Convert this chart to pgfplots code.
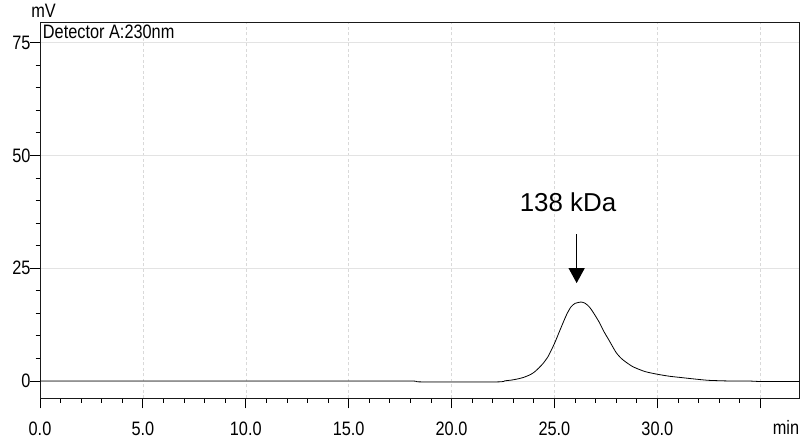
\documentclass[border=0pt]{standalone}
\usepackage{fontspec}
\setmainfont{Liberation Sans}
\newfontfamily\narrowfont{Liberation Sans}[FakeStretch=0.84]
\usepackage{pgfplots}
\pgfplotsset{compat=1.18}
\usetikzlibrary{arrows.meta}
\begin{document}
\begin{tikzpicture}
\begin{axis}[
  scale only axis,
  width=759.3bp, height=375.6bp,
  xmin=0, xmax=36.9, ymin=-3.83, ymax=79.4,
  axis line style={black!90, line width=0.9bp},
  tick align=outside,
  major tick length=10bp, minor tick length=4.3bp,
  tick style={black, line width=0.8bp},
  xtick={0,5,10,15,20,25,30,35},
  xticklabels={0.0,5.0,10.0,15.0,20.0,25.0,30.0,{}},
  minor x tick num=4,
  ytick={0,25,50,75},
  minor y tick num=4,
  xtick pos=bottom, ytick pos=left,
  /pgf/number format/assume math mode=true,
  ticklabel style={font=\narrowfont\fontsize{19.5}{20}\selectfont},
  xticklabel style={yshift=-10bp},
  yticklabel style={xshift=4bp},
  xmajorgrids, ymajorgrids,
  major x grid style={dash pattern=on 3bp off 2.5bp, gray!30, line width=0.5bp},
  major y grid style={solid, gray!22, line width=1bp},
  clip=true,
]
\addplot[black, line width=0.8bp, smooth, tension=0.4] coordinates {
(0,0) (5,0) (10,0) (15,0) (18.0,0) (18.3,-0.1) (18.6,-0.2) (22.2,-0.2) (22.6,0.05) (22.9,0.2)
(23.2,0.45) (23.5,0.8) (23.8,1.35) (24.0,1.9) (24.2,2.7) (24.44,3.85)
(24.7,5.5) (25.0,8.3) (25.2,10.5) (25.4,12.7) (25.6,14.8) (25.8,16.4)
(26.0,17.2) (26.3,17.5) (26.5,17.2) (26.7,16.4) (26.9,15.1) (27.18,13.0)
(27.4,11.0) (27.67,8.9) (28.0,6.3) (28.3,4.8) (28.8,3.2) (29.4,2.1)
(30.0,1.5) (30.6,1.05) (31.2,0.75) (31.8,0.45) (32.5,0.15) (33.6,0.0)
(34.5,0) (35,-0.1) (36.9,-0.1)
};
\node[anchor=base, inner sep=0pt, font=\fontsize{26}{28}\selectfont] at (axis cs:25.66,37.6) {138 kDa};
\draw[black, line width=1.3bp, -{Triangle[width=16bp,length=15bp]}] (axis cs:26.08,32.5) -- (axis cs:26.08,21.7);
\end{axis}
\node[anchor=north west, inner sep=0pt, font=\narrowfont\fontsize{19.5}{20}\selectfont] at ([xshift=2.7bp,yshift=-2.3bp]current axis.north west) {Detector A:230nm};
\node[anchor=south, inner sep=0pt, font=\narrowfont\fontsize{19.5}{20}\selectfont] at ([xshift=3.5bp,yshift=4.5bp]current axis.north west) {mV};
\node[anchor=north east, inner sep=0pt, font=\narrowfont\fontsize{19.5}{20}\selectfont] at ([xshift=0bp,yshift=-21.7bp]current axis.south east) {min};
\pgfresetboundingbox
\path ([xshift=-40bp,yshift=-44.7bp]current axis.south west) rectangle ([xshift=3.7bp,yshift=22.7bp]current axis.north east);
\end{tikzpicture}
\end{document}
